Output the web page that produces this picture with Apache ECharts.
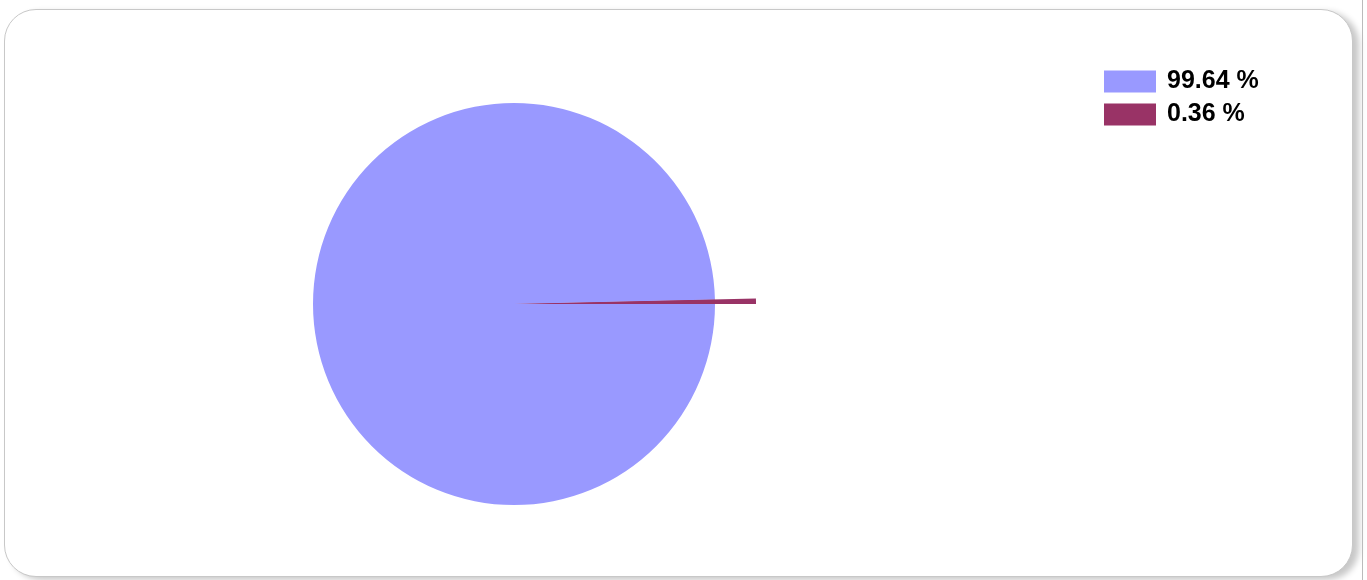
<!DOCTYPE html>
<html>
<head>
<meta charset="utf-8">
<script src="https://cdn.jsdelivr.net/npm/echarts@6/dist/echarts.min.js"></script>
<style>
html,body{margin:0;padding:0;background:#fff;width:1367px;height:580px;overflow:hidden;}
#card{position:absolute;left:4px;top:9px;width:1347px;height:566px;border:1px solid #c8c8c8;border-radius:32px;box-shadow:6px 3px 6px rgba(0,0,0,0.22);background:#fff;}
#vline{position:absolute;left:1362px;top:0;width:1px;height:580px;background:#bbb;}
#chart{position:absolute;left:0;top:0;width:1367px;height:580px;}
</style>
</head>
<body>
<div id="card"></div>
<div id="vline"></div>
<div id="chart"></div>
<script>
const categories = ['99.64 %', '0.36 %'];
const values = [99.64, 0.36];
const colors = ['#9999FF', '#993366'];

const chart = echarts.init(document.getElementById('chart'));
chart.setOption({
  animation: false,
  legend: {
    orient: 'vertical',
    left: 1104,
    top: 69,
    padding: 0,
    itemWidth: 52,
    itemHeight: 22,
    itemGap: 8,
    icon: 'rect',
    selectedMode: false,
    textStyle: {fontSize: 25, lineHeight: 22, fontWeight: 'bold', color: '#000', fontFamily: "'Liberation Sans', Arial, sans-serif", padding: [2,0,0,6]},
    data: categories.map((c, i) => ({name: c, itemStyle: {color: colors[i]}}))
  },
  series: [
    {
      type: 'pie',
      center: [514, 304],
      radius: 242,
      startAngle: 0,
      clockwise: true,
      silent: true,
      label: {show: false},
      labelLine: {show: false},
      data: categories.map((c, i) => ({name: c, value: values[i], itemStyle: {color: i === 1 ? colors[1] : 'rgba(0,0,0,0)'}}))
    },
    {
      type: 'pie',
      center: [514, 304],
      radius: 201,
      startAngle: 0,
      clockwise: true,
      silent: true,
      label: {show: false},
      labelLine: {show: false},
      data: categories.map((c, i) => ({name: c, value: values[i], itemStyle: {color: i === 0 ? colors[0] : colors[1]}}))
    }
  ]
});
</script>
</body>
</html>
